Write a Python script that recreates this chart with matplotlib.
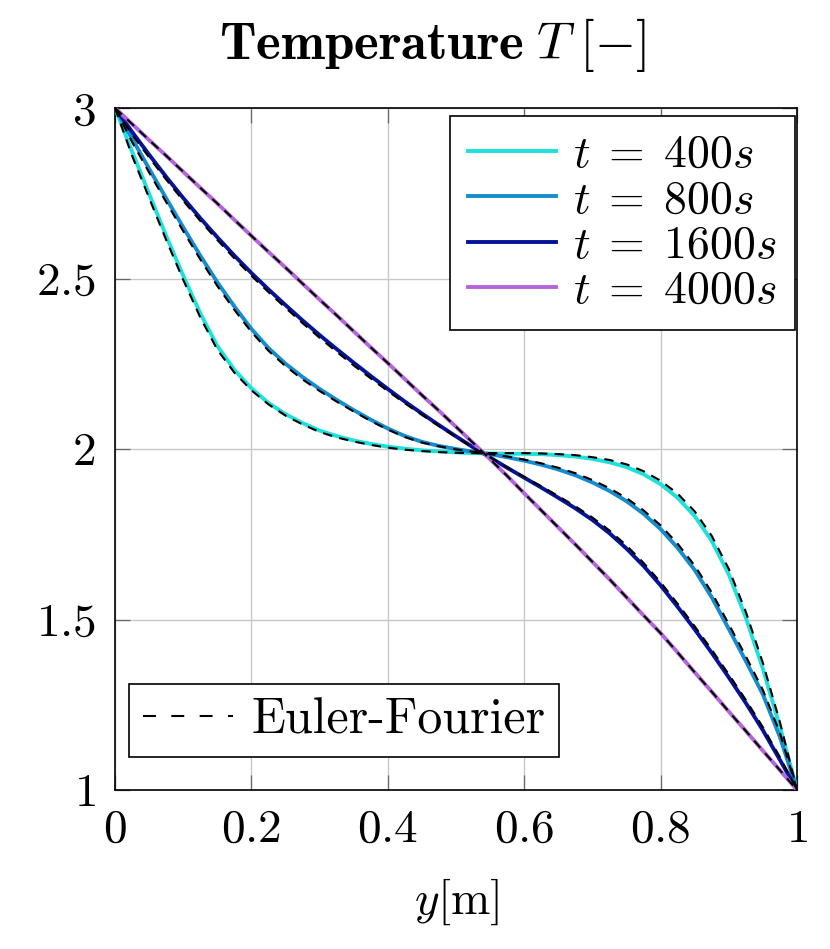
import matplotlib
matplotlib.use("Agg")
import matplotlib.pyplot as plt
from matplotlib.lines import Line2D

plt.rcParams['font.family'] = 'cmr10'
plt.rcParams['mathtext.fontset'] = 'cm'
plt.rcParams['axes.unicode_minus'] = False

# positions along the slab [m]
y_pos = [0, 0.025, 0.05, 0.075, 0.1, 0.125, 0.15, 0.175, 0.2, 0.225, 0.25, 0.275, 0.3,
         0.325, 0.35, 0.375, 0.4, 0.425, 0.45, 0.475, 0.5, 0.525, 0.55, 0.575, 0.6,
         0.625, 0.65, 0.675, 0.7, 0.725, 0.75, 0.775, 0.8, 0.825, 0.85, 0.875, 0.9,
         0.925, 0.95, 0.975, 1.0]

# numerical solution
T_400 = [3.0, 2.872, 2.748, 2.625, 2.508, 2.398, 2.302, 2.232, 2.178, 2.135, 2.102,
         2.076, 2.054, 2.038, 2.025, 2.015, 2.007, 2.001, 1.996, 1.993, 1.99, 1.988,
         1.987, 1.986, 1.986, 1.985, 1.982, 1.978, 1.971, 1.961, 1.947, 1.926, 1.897,
         1.857, 1.803, 1.73, 1.632, 1.505, 1.355, 1.185, 1.0]
T_800 = [3.0, 2.91, 2.822, 2.735, 2.65, 2.567, 2.489, 2.418, 2.352, 2.296, 2.25,
         2.211, 2.176, 2.144, 2.114, 2.086, 2.06, 2.038, 2.021, 2.009, 2.0, 1.992,
         1.985, 1.976, 1.966, 1.954, 1.94, 1.923, 1.902, 1.877, 1.847, 1.81, 1.765,
         1.71, 1.645, 1.565, 1.472, 1.378, 1.28, 1.155, 1.0]
T_1600 = [3.0, 2.93, 2.863, 2.798, 2.736, 2.677, 2.621, 2.567, 2.516, 2.468, 2.422,
          2.377, 2.334, 2.293, 2.253, 2.214, 2.176, 2.139, 2.104, 2.07, 2.037, 2.005,
          1.975, 1.945, 1.916, 1.887, 1.857, 1.826, 1.792, 1.753, 1.708, 1.657, 1.6,
          1.537, 1.471, 1.402, 1.33, 1.255, 1.175, 1.088, 1.0]
T_4000 = [3.0, 2.953, 2.906, 2.86, 2.813, 2.766, 2.72, 2.672, 2.625, 2.578, 2.532,
          2.485, 2.438, 2.392, 2.345, 2.298, 2.252, 2.205, 2.158, 2.112, 2.065, 2.018,
          1.97, 1.921, 1.87, 1.82, 1.77, 1.72, 1.669, 1.618, 1.565, 1.512, 1.46,
          1.403, 1.345, 1.288, 1.23, 1.173, 1.115, 1.058, 1.0]

# Euler-Fourier (analytical) solution
EF_400 = [3.0, 2.86, 2.736, 2.613, 2.496, 2.386, 2.291, 2.224, 2.172, 2.131, 2.098,
          2.072, 2.05, 2.034, 2.022, 2.012, 2.004, 1.998, 1.994, 1.991, 1.989, 1.988,
          1.988, 1.988, 1.988, 1.987, 1.985, 1.982, 1.976, 1.968, 1.955, 1.935, 1.907,
          1.869, 1.817, 1.745, 1.648, 1.522, 1.372, 1.198, 1.0]
EF_800 = [3.0, 2.9, 2.811, 2.724, 2.639, 2.556, 2.478, 2.408, 2.343, 2.288, 2.243,
          2.204, 2.17, 2.139, 2.11, 2.082, 2.057, 2.035, 2.019, 2.008, 1.999, 1.992,
          1.985, 1.978, 1.969, 1.958, 1.945, 1.929, 1.909, 1.885, 1.856, 1.82, 1.776,
          1.722, 1.658, 1.579, 1.486, 1.392, 1.293, 1.167, 1.0]
EF_1600 = [3.0, 2.922, 2.855, 2.79, 2.728, 2.669, 2.613, 2.559, 2.508, 2.46, 2.414,
           2.369, 2.326, 2.285, 2.245, 2.207, 2.17, 2.134, 2.1, 2.067, 2.035, 2.004,
           1.975, 1.946, 1.918, 1.891, 1.862, 1.832, 1.799, 1.761, 1.717, 1.666, 1.609,
           1.546, 1.48, 1.411, 1.339, 1.264, 1.184, 1.096, 1.0]
EF_4000 = T_4000

labels = [r'$t\;=\;400s$', r'$t\;=\;800s$', r'$t\;=\;1600s$', r'$t\;=\;4000s$']
colors = ['#1ee1dc', '#148ccd', '#051496', '#b464dc']
x_ticks = [0, 0.2, 0.4, 0.6, 0.8, 1]
y_ticks = [1, 1.5, 2, 2.5, 3]

fig = plt.figure(figsize=(8.3, 9.49), dpi=100)
ax = fig.add_axes([0.1386, 0.1675, 0.8217, 0.7187])

solid = []
for T, c, lab in zip([T_400, T_800, T_1600, T_4000], colors, labels):
    ln, = ax.plot(y_pos, T, color=c, lw=2.8, label=lab, zorder=3)
    solid.append(ln)
for T in [EF_400, EF_800, EF_1600, EF_4000]:
    ax.plot(y_pos, T, color='black', lw=1.5, ls=(0, (4.5, 3.5)), zorder=4)

ax.set_xlim(0, 1)
ax.set_ylim(1, 3)
ax.set_xticks(x_ticks)
ax.set_yticks(y_ticks)
ax.set_xticklabels(['$%g$' % v for v in x_ticks])
ax.set_yticklabels(['$%g$' % v for v in y_ticks])
ax.tick_params(direction='in', length=11, width=0.9, color='#666666',
               labelsize=34, top=True, right=True)
ax.tick_params(axis='x', pad=14)
ax.tick_params(axis='y', pad=14)
ax.grid(True, color='#c8c8c8', lw=1.0)
ax.set_axisbelow(True)
for s in ax.spines.values():
    s.set_linewidth(1.2)
    s.set_color('black')

leg1 = ax.legend(handles=solid, loc='upper right', bbox_to_anchor=(0.997, 0.988),
                 borderaxespad=0, fontsize=33, frameon=True, fancybox=False,
                 edgecolor='black', framealpha=1, labelspacing=0.08,
                 handlelength=1.92, handletextpad=0.37, borderpad=0.4)
leg1.get_frame().set_linewidth(1.2)
ax.add_artist(leg1)

ef_handle = Line2D([], [], color='black', lw=1.5, ls=(0, (6.2, 7.4)))
leg2 = ax.legend(handles=[ef_handle], labels=['Euler-Fourier'], loc='lower left',
                 bbox_to_anchor=(0.0205, 0.048), borderaxespad=0,
                 prop={'family': 'cmr10', 'size': 36}, frameon=True, fancybox=False,
                 edgecolor='black', framealpha=1, handlelength=1.8,
                 handletextpad=0.38, borderpad=0.27)
leg2.get_frame().set_linewidth(1.2)

fig.text(432 / 830, 1 - 45 / 949, r'$\mathbf{Temperature}\;T\;[-]$', fontsize=38,
         ha='center', va='center')
ax.set_xlabel(r'$y[\mathrm{m}]$', fontsize=34, labelpad=18)

fig.savefig('out.png', dpi=100)
